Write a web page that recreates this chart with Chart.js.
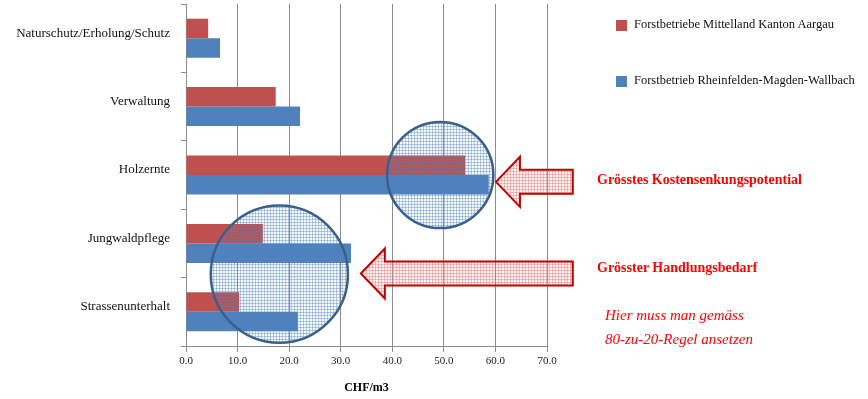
<!DOCTYPE html>
<html>
<head>
<meta charset="utf-8">
<script src="https://cdn.jsdelivr.net/npm/chart.js@4.4.1/dist/chart.umd.min.js"></script>
<style>
  body { margin: 0; background: #fff; }
  #wrap { position: relative; width: 868px; height: 399px; }
  #wrap canvas { position: absolute; left: 0; top: 0; }
  .txt { position: absolute; font-family: "Liberation Serif", "DejaVu Serif", serif; white-space: nowrap; line-height: 1; }
  .key { position: absolute; width: 11px; height: 11px; }
</style>
</head>
<body>
<div id="wrap">
  <canvas id="chart" width="868" height="399"></canvas>
</div>
<script>
var categories = ["Naturschutz/Erholung/Schutz", "Verwaltung", "Holzernte", "Jungwaldpflege", "Strassenunterhalt"];
var seriesNames = ["Forstbetriebe Mittelland Kanton Aargau", "Forstbetrieb Rheinfelden-Magden-Wallbach"];
var aargau = [4.3, 17.4, 54.1, 14.9, 10.3];
var rheinfelden = [6.6, 22.1, 58.7, 32.0, 21.7];
var xTicks = [0, 10, 20, 30, 40, 50, 60, 70];
var axisTitle = "CHF/m3";

// highlights, in chart units (x = CHF/m3, y = category index)
var circles = [{ x: 49.3, y: 2.0, r: 10.3 }, { x: 18.1, y: 3.45, r: 13.3 }];
var arrows = [{ tip: 60.1, tail: 75.0, y: 2.1 }, { tip: 33.9, tail: 75.0, y: 3.44 }];
var notes = ["Grösstes Kostensenkungspotential", "Grösster Handlungsbedarf"];
var remark = ["Hier muss man gemäss", "80-zu-20-Regel ansetzen"];

var colors = ["#c0504d", "#4f81bd"];
var serif = "'Liberation Serif', 'DejaVu Serif', serif";

function makePattern(ctx, line, bg) {
    var c = document.createElement('canvas');
    c.width = 3; c.height = 3;
    var p = c.getContext('2d');
    if (bg) { p.fillStyle = bg; p.fillRect(0, 0, 3, 3); }
    p.fillStyle = line;
    p.fillRect(0, 0, 3, 1);
    p.fillRect(0, 0, 1, 3);
    return ctx.createPattern(c, 'repeat');
}

var highlights = {
    id: 'highlights',
    afterDatasetsDraw: function(chart) {
        var ctx = chart.ctx, xs = chart.scales.x, ys = chart.scales.y;
        var pxPerUnit = xs.getPixelForValue(1) - xs.getPixelForValue(0);
        ctx.save();
        // circles
        circles.forEach(function(c) {
            var cx = xs.getPixelForValue(c.x), cy = ys.getPixelForValue(c.y), r = c.r * pxPerUnit;
            ctx.beginPath();
            ctx.arc(cx, cy, r, 0, Math.PI * 2);
            ctx.fillStyle = makePattern(ctx, 'rgba(79,129,189,0.4)', 'rgba(79,129,189,0.05)');
            ctx.fill();
            ctx.lineWidth = 2.5;
            ctx.strokeStyle = '#3a5f8b';
            ctx.stroke();
        });
        // arrows
        arrows.forEach(function(a) {
            var tip = xs.getPixelForValue(a.tip), tail = xs.getPixelForValue(a.tail), y = ys.getPixelForValue(a.y);
            var head = 24, hh = 25, sh = 12;
            ctx.beginPath();
            ctx.moveTo(tip, y);
            ctx.lineTo(tip + head, y - hh);
            ctx.lineTo(tip + head, y - sh);
            ctx.lineTo(tail, y - sh);
            ctx.lineTo(tail, y + sh);
            ctx.lineTo(tip + head, y + sh);
            ctx.lineTo(tip + head, y + hh);
            ctx.closePath();
            ctx.fillStyle = makePattern(ctx, 'rgba(220,90,90,0.35)', 'rgba(255,190,190,0.2)');
            ctx.fill();
            ctx.lineWidth = 2;
            ctx.lineJoin = 'miter';
            ctx.strokeStyle = '#c00000';
            ctx.stroke();
        });
        ctx.restore();
    }
};

var chart = new Chart(document.getElementById('chart'), {
    type: 'bar',
    data: {
        labels: categories,
        datasets: [
            { label: seriesNames[0], data: aargau, backgroundColor: colors[0] },
            { label: seriesNames[1], data: rheinfelden, backgroundColor: colors[1] }
        ]
    },
    options: {
        indexAxis: 'y',
        responsive: false,
        animation: false,
        events: [],
        categoryPercentage: 0.57,
        barPercentage: 1.0,
        layout: { padding: { left: 0, top: 4, right: 321, bottom: 0 } },
        plugins: { legend: { display: false }, tooltip: { enabled: false } },
        scales: {
            x: {
                min: 0, max: 70,
                afterBuildTicks: function(s) { s.ticks = xTicks.map(function(v) { return { value: v }; }); },
                afterFit: function(s) { s.height = 53; s.paddingLeft = 0; s.paddingRight = 0; },
                grid: { color: '#8c8c8c', lineWidth: 1, tickLength: 6, drawTicks: true },
                border: { color: '#8c8c8c' },
                ticks: {
                    color: '#222', padding: 3,
                    font: { family: serif, size: 11 },
                    callback: function(v) { return Number(v).toFixed(1); }
                },
                title: {
                    display: true, text: axisTitle, color: '#000',
                    font: { family: serif, size: 12, weight: 'bold' },
                    padding: { top: 4, bottom: 4 }
                }
            },
            y: {
                afterFit: function(s) { s.width = 186; s.paddingTop = 0; s.paddingBottom = 0; },
                grid: { offset: true, drawOnChartArea: false, color: '#8c8c8c', tickLength: 5 },
                border: { color: '#8c8c8c' },
                ticks: { color: '#111', padding: 11, labelOffset: -5, font: { family: serif, size: 13 } }
            }
        }
    },
    plugins: [highlights]
});

// legend and notes as page text
var wrap = document.getElementById('wrap');
function addText(str, left, top, style) {
    var d = document.createElement('div');
    d.className = 'txt';
    d.textContent = str;
    d.style.left = left + 'px';
    d.style.top = top + 'px';
    for (var k in style) d.style[k] = style[k];
    wrap.appendChild(d);
    return d;
}
seriesNames.forEach(function(name, i) {
    var y = 20 + i * 56;
    var sq = document.createElement('div');
    sq.className = 'key';
    sq.style.left = '616px';
    sq.style.top = y + 'px';
    sq.style.background = colors[i];
    wrap.appendChild(sq);
    addText(name, 634, y - 2, { fontSize: '12.5px', color: '#111' });
});
addText(notes[0], 597, 173, { fontSize: '14px', fontWeight: 'bold', color: '#ff0000' });
addText(notes[1], 597, 261, { fontSize: '14px', fontWeight: 'bold', color: '#ff0000' });
addText(remark[0], 605, 308, { fontSize: '15px', fontStyle: 'italic', color: '#ff0000' });
addText(remark[1], 605, 332, { fontSize: '15px', fontStyle: 'italic', color: '#ff0000' });
</script>
</body>
</html>
